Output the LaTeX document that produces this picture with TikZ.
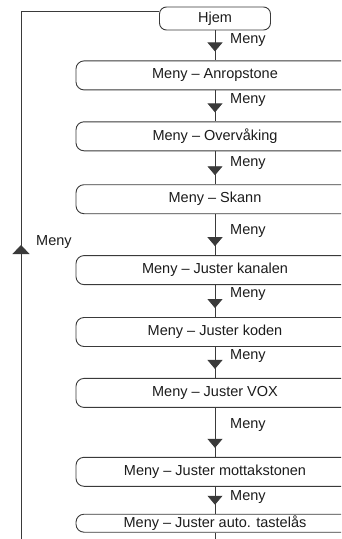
\documentclass[tikz,border=0pt]{standalone}
\usepackage{fontspec}
\setmainfont{Liberation Sans}
\usepackage{xcolor}
\usetikzlibrary{arrows.meta,positioning,calc,decorations.markings}
\definecolor{wire}{RGB}{58,58,58}
\definecolor{ink}{RGB}{28,28,28}
\tikzset{
  homebox/.style={draw=wire, line width=0.9pt, rounded corners=7pt, fill=white, align=center,
    minimum width=111pt, minimum height=23pt, inner sep=0pt, font=\fontsize{14.5}{16}\selectfont, text=ink},
  menubox/.style={draw=wire, line width=0.9pt, rounded corners=8pt, fill=white, align=center,
    minimum width=278pt, minimum height=29pt, inner sep=0pt, font=\fontsize{14.5}{16}\selectfont, text=ink},
  wireline/.style={draw=wire, line width=0.9pt},
  flow/.style={wireline, postaction={decorate},
    decoration={markings, mark=at position -9pt with {\arrow{Triangle[length=9pt,width=15pt]}}}},
  backflow/.style={wireline, postaction={decorate},
    decoration={markings, mark=at position 294pt with {\arrow{Triangle[length=9pt,width=17pt]}}}},
  lbl/.style={font=\fontsize{14.5}{16}\selectfont, text=ink, inner sep=1pt}
}
\begin{document}
\begin{tikzpicture}
  \useasboundingbox (0,0) rectangle (341pt,-539pt);
  \clip (0,0) rectangle (341pt,-539pt);

  \node[homebox] (hjem) at (215pt,-18.5pt) {Hjem};
  \node[menubox, below=30pt of hjem] (anrop) {Meny – Anropstone};
  \node[menubox, below=31pt of anrop] (overv) {Meny – Overvåking};
  \node[menubox, below=33pt of overv] (skann) {Meny – Skann};
  \node[menubox, below=41pt of skann] (kanal) {Meny – Juster kanalen};
  \node[menubox, below=32pt of kanal] (koden) {Meny – Juster koden};
  \node[menubox, below=31pt of koden] (vox) {Meny – Juster VOX};
  \node[menubox, below=49pt of vox] (mott) {Meny – Juster mottakstonen};
  \node[menubox, below=27pt of mott, minimum height=18pt] (taste) {Meny – Juster auto. tastelås};

  % trinn nedover
  \draw[flow] (hjem) -- (anrop);
  \draw[flow] (anrop) -- (overv);
  \draw[flow] (overv) -- (skann);
  \draw[flow] (skann) -- (kanal);
  \draw[flow] (kanal) -- (koden);
  \draw[flow] (koden) -- (vox);
  \draw[flow] (vox) -- (mott);
  \draw[flow] (mott) -- (taste);

  \node[lbl, anchor=west] (m1) at ($(anrop.north)+(14pt,20pt)$) {Meny};
  \node[lbl, anchor=west] (m2) at ($(overv.north)+(14pt,21pt)$) {Meny};
  \node[lbl, anchor=west] (m3) at ($(skann.north)+(14pt,21pt)$) {Meny};
  \node[lbl, anchor=west] (m4) at ($(kanal.north)+(14pt,24pt)$) {Meny};
  \node[lbl, anchor=west] (m5) at ($(koden.north)+(14pt,23pt)$) {Meny};
  \node[lbl, anchor=west] (m6) at ($(vox.north)+(14pt,22pt)$) {Meny};
  \node[lbl, anchor=west] (m7) at ($(mott.north)+(14pt,32pt)$) {Meny};
  \node[lbl, anchor=west] (m8) at ($(taste.north)+(14pt,17pt)$) {Meny};

  % videre ned og tilbake til Hjem
  \coordinate (tailend) at (215pt,-539pt);
  \draw[wireline] (taste) -- (tailend);
  \coordinate (loopfoot) at (21pt,-539pt);
  \coordinate (loopcorner) at (21pt,-11pt);
  \draw[backflow] (loopfoot) -- (loopcorner);
  \draw[wireline] (loopcorner) -- (loopcorner -| hjem.west);
  \node[lbl, anchor=west] (mback) at (35pt,-242pt) {Meny};
\end{tikzpicture}
\end{document}
